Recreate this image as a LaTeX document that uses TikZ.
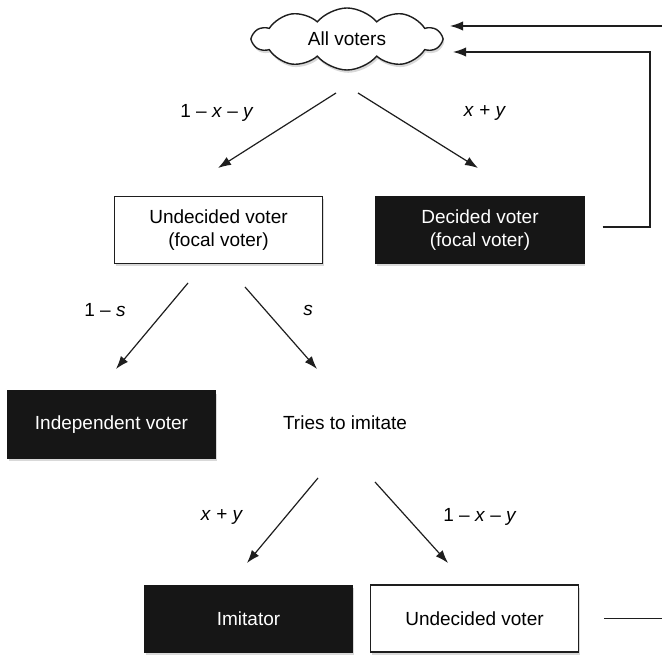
\documentclass[tikz,border=0pt]{standalone}
\usepackage{fontspec}
\setmainfont{Liberation Sans}
\usepackage{tikz}
\usetikzlibrary{shapes.symbols,shadows,arrows.meta}

\definecolor{boxblack}{HTML}{161616}
\definecolor{linegray}{HTML}{1E1E1E}

\tikzset{
	shade box/.style={drop shadow={shadow xshift=0.6pt, shadow yshift=-1.4pt, opacity=0.3}},
	box/.style={shape=rectangle, draw=linegray, line width=0.7pt, minimum width=104pt, minimum height=33.5pt, align=center, shade box},
	whitebox/.style={box, fill=white, text=black},
	blackbox/.style={box, fill=boxblack, draw=boxblack, text=white},
	arr/.style={-{Latex[length=6.5pt,width=4.6pt]}, line width=0.6pt, color=linegray},
	flow/.style={line width=0.6pt, draw=linegray}
}

\begin{document}
\begin{tikzpicture}[x=0.5pt, y=-0.5pt, font=\fontsize{9.5}{11.5}\selectfont]
	
	\useasboundingbox (0, 0) rectangle (662, 656);
	
	\node[shape=cloud, draw=linegray, fill=white, line width=0.7pt, cloud puffs=10, cloud puff arc=100, aspect=3, minimum width=94pt, minimum height=31pt, inner sep=0pt, shade box] (voters) at (347, 39) {All voters};
	
	\node[whitebox] (undec)   at (218.5, 230)   {Undecided voter\\(focal voter)};
	\node[blackbox] (decided) at (480, 230)     {Decided voter\\(focal voter)};
	\node[blackbox] (indep)   at (111.5, 424.5) {Independent voter};
	\node           (tries)   at (345, 423)     {Tries to imitate};
	\node[blackbox] (imit)    at (248.5, 619)   {Imitator};
	\node[whitebox] (undecb)  at (474.5, 618.5) {Undecided voter};
	
	% arrow ends
	\coordinate (v1) at (336, 93);   \coordinate (u1) at (218, 168);
	\coordinate (v2) at (358, 93);   \coordinate (d1) at (478, 168);
	\coordinate (u2) at (188, 283);  \coordinate (i1) at (116, 369);
	\coordinate (u3) at (245, 287);  \coordinate (t1) at (317, 369);
	\coordinate (t2) at (318, 478);  \coordinate (m1) at (247, 563);
	\coordinate (t3) at (375, 482);  \coordinate (b1) at (448, 563);
	
	\path[arr] (v1) edge (u1);
	\path[arr] (v2) edge (d1);
	\path[arr] (u2) edge (i1);
	\path[arr] (u3) edge (t1);
	\path[arr] (t2) edge (m1);
	\path[arr] (t3) edge (b1);
	
	\node (l1) at (217, 113) {1 -- \textit{x} -- \textit{y}};
	\node (l2) at (485, 113) {\textit{x} + \textit{y}};
	\node (l3) at (105, 310) {1 -- \textit{s}};
	\node (l4) at (308, 310) {\textit{s}};
	\node (l5) at (222, 517) {\textit{x} + \textit{y}};
	\node (l6) at (480, 517) {1 -- \textit{x} -- \textit{y}};
	
	% back to all voters
	\coordinate (r1) at (662, 26);   \coordinate (c1) at (450, 26);
	\coordinate (r2) at (650, 227);  \coordinate (c2) at (453, 52);
	\coordinate (r3) at (662, 617);
	
	\draw[arr] (r1) -- (c1);
	\draw[arr] ([xshift=9pt]decided.east |- r2) -- (r2) |- (c2);
	\draw[flow] ([xshift=12.5pt]undecb.east) -- (undecb.east -| r3);
	
\end{tikzpicture}
\end{document}
